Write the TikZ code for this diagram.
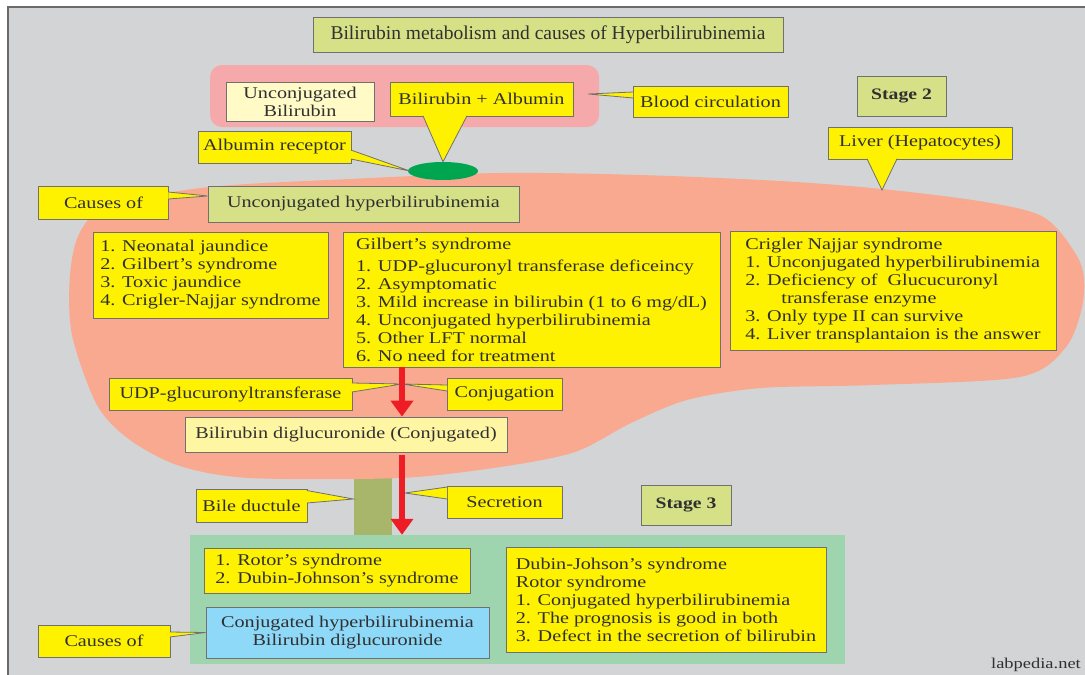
\documentclass[tikz,border=0pt]{standalone}
\usepackage{fontspec}
\setmainfont{Liberation Serif}[FakeStretch=1.23]
\newfontfamily\titlefont{Liberation Serif}
\usetikzlibrary{arrows.meta,shapes.geometric}
\definecolor{bg}{HTML}{D3D4D6}
\definecolor{frame}{HTML}{6A6A6A}
\definecolor{yel}{HTML}{FFF200}
\definecolor{lyelA}{HTML}{FFFAC6}
\definecolor{lyelB}{HTML}{FFF6A4}
\definecolor{gy}{HTML}{D6E187}
\definecolor{pinkc}{HTML}{F5A9AB}
\definecolor{salmon}{HTML}{F8A98F}
\definecolor{ellg}{HTML}{00A550}
\definecolor{redc}{HTML}{EE1C25}
\definecolor{olive}{HTML}{A8B66C}
\definecolor{greenr}{HTML}{9ED5AF}
\definecolor{bluec}{HTML}{8ED8F8}
\definecolor{bord}{HTML}{707070}
\definecolor{txt}{HTML}{303030}
\begin{document}
\begin{tikzpicture}[x=1pt,y=-1pt,
  box/.style={draw=bord, line width=0.8pt, text=txt, inner sep=0pt,
    font=\fontsize{16.4}{18}\selectfont},
  ybox/.style={box, fill=yel},
  gbox/.style={box, fill=gy},
  ptr/.style={fill=yel, draw=bord, line width=0.8pt},
  redarrow/.style={draw=redc, line width=5.5pt,
    -{Triangle[width=22pt,length=16pt]}, shorten <=0pt},
  stagebox/.style={gbox, font=\bfseries\fontsize{16}{18}\selectfont}
]
\useasboundingbox (0,0) rectangle (1085,675);
\fill[bg] (8,7) rectangle (1085,675);
\draw[frame, line width=1.5pt] (8,675) -- (8,7) -- (1085,7);

% title
\node[gbox, font=\titlefont\fontsize{19.5}{22}\selectfont,
  minimum width=470pt, minimum height=35pt] (title) at (548,34.5)
  {Bilirubin metabolism and causes of Hyperbilirubinemia};

% blood circulation area
\node[fill=pinkc, rounded corners=12pt, minimum width=389pt,
  minimum height=62pt, inner sep=0pt] (pink) at (404.5,96) {};
\node[box, fill=lyelA, align=center, minimum width=148pt,
  minimum height=39pt] (unconjB) at (300,101.5) {Unconjugated\\Bilirubin};
\node[ybox, minimum width=183pt, minimum height=34pt] (bilalb)
  at (481.5,99) {Bilirubin + Albumin};
\node[ybox, minimum width=155pt, minimum height=31pt] (bloodc)
  at (710.5,101.5) {Blood circulation};
\node[stagebox, minimum width=89pt, minimum height=40pt] (stage2)
  at (901.5,96) {Stage 2};

% bile ductule bar (under liver)
\node[fill=olive, minimum width=38pt, minimum height=66pt, inner sep=0pt]
  (duct) at (372.5,503) {};

% liver
\fill[salmon] plot[smooth cycle, tension=0.5] coordinates {
  (500,173) (350,179) (210,187) (110,205) (80,232) (70,275) (72,335)
  (97,405) (130,440) (180,466) (250,478) (400,478) (500,467) (575,452)
  (631,423) (687,400) (761,388) (873,385) (1020,377) (1066,347)
  (1083,302) (1080,262) (1045,218) (985,202) (882,189) (780,181)
  (640,175)};

\node[ellipse, fill=ellg, minimum width=70pt, minimum height=18pt,
  inner sep=0pt] (ell) at (443,171) {};
\node[ybox, minimum width=153pt, minimum height=32pt] (albrec)
  at (274.5,147) {Albumin receptor};
\node[ybox, minimum width=184pt, minimum height=32pt] (liver)
  at (920,143) {Liver (Hepatocytes)};
\coordinate (livertip) at (882,190);

\node[ybox, minimum width=130pt, minimum height=33pt] (causesA)
  at (103.5,202.5) {Causes of};
\node[gbox, minimum width=311pt, minimum height=36pt] (unconjH)
  at (363.5,204) {Unconjugated hyperbilirubinemia};

\node[ybox, align=left, minimum width=235pt, minimum height=86pt] (list1)
  at (210.5,275) {1. Neonatal jaundice\\2. Gilbert’s syndrome\\
  3. Toxic jaundice\\4. Crigler-Najjar syndrome};
\node[ybox, align=left, minimum width=377pt, minimum height=135pt] (gilbert)
  at (531.5,299.5) {Gilbert’s syndrome\\[4pt]
  1. UDP-glucuronyl transferase deficeincy\\
  2. Asymptomatic\\
  3. Mild increase in bilirubin (1 to 6 mg/dL)\\
  4. Unconjugated hyperbilirubinemia\\
  5. Other LFT normal\\
  6. No need for treatment};
\node[ybox, align=left, minimum width=326pt, minimum height=119pt] (crigler)
  at (893,290.5) {Crigler Najjar syndrome\\
  1. Unconjugated hyperbilirubinemia\\
  2. Deficiency of\ \ Glucucuronyl\\
  \hspace*{36pt}transferase enzyme\\
  3. Only type II can survive\\
  4. Liver transplantaion is the answer};

\coordinate (conjpt) at (402,384);
\node[ybox, minimum width=243pt, minimum height=32pt] (udp)
  at (230.5,394) {UDP-glucuronyltransferase};
\node[ybox, minimum width=115pt, minimum height=32pt] (conjug)
  at (504.5,394) {Conjugation};
\node[box, fill=lyelB, minimum width=322pt, minimum height=35pt] (bdg)
  at (346,434.5) {Bilirubin diglucuronide (Conjugated)};

% stage 3 area
\node[ybox, minimum width=111pt, minimum height=33pt] (bile)
  at (251.5,505.5) {Bile ductule};
\node[ybox, minimum width=115pt, minimum height=32pt] (secretion)
  at (504.5,502) {Secretion};
\coordinate (sectip) at (405,493);
\node[stagebox, minimum width=90pt, minimum height=40pt] (stage3)
  at (686,505) {Stage 3};

\node[fill=greenr, minimum width=655pt, minimum height=129pt, inner sep=0pt]
  (greenrect) at (517.5,599.5) {};
\node[ybox, align=left, minimum width=266pt, minimum height=45pt] (rotor)
  at (337,570.5) {1. Rotor’s syndrome\\2. Dubin-Johnson’s syndrome};
\node[box, fill=bluec, align=center, minimum width=283pt, minimum height=51pt]
  (blue) at (347.5,632.5) {Conjugated hyperbilirubinemia\\Bilirubin diglucuronide};
\node[ybox, align=left, minimum width=320pt, minimum height=105pt] (dubin)
  at (666,599.5) {Dubin-Johson’s syndrome\\
  Rotor syndrome\\
  1. Conjugated hyperbilirubinemia\\
  2. The prognosis is good in both\\
  3. Defect in the secretion of bilirubin};
\node[ybox, minimum width=132pt, minimum height=32pt] (causesB)
  at (104,641) {Causes of};

% callout pointers
\path[ptr] ([xshift=-58.5pt,yshift=0.6pt]bilalb.south) -- (ell.north)
  -- ([xshift=-14.5pt,yshift=0.6pt]bilalb.south);
\path[ptr] ([xshift=-0.6pt,yshift=-3pt]albrec.east) -- ([xshift=2pt]ell.west)
  -- ([xshift=-0.6pt,yshift=-12pt]albrec.east);
\path[ptr] ([xshift=0.6pt,yshift=9.5pt]bloodc.west)
  -- ([xshift=-11pt,yshift=2pt]pink.east)
  -- ([xshift=0.6pt,yshift=3.5pt]bloodc.west);
\path[ptr] ([xshift=-53pt,yshift=0.6pt]liver.south) -- (livertip)
  -- ([xshift=-23pt,yshift=0.6pt]liver.south);
\path[ptr] ([xshift=-0.6pt,yshift=10.5pt]causesA.east)
  -- ([yshift=8pt]unconjH.west)
  -- ([xshift=-0.6pt,yshift=3.5pt]causesA.east);
\path[ptr] ([xshift=-0.6pt,yshift=11pt]udp.east) -- (conjpt)
  -- ([xshift=-0.6pt,yshift=2pt]udp.east);
\path[ptr] ([xshift=0.6pt,yshift=9pt]conjug.west) -- (conjpt)
  -- ([xshift=0.6pt,yshift=3pt]conjug.west);
\path[ptr] ([xshift=-0.6pt,yshift=15pt]bile.east) -- ([yshift=4pt]duct.west)
  -- ([xshift=-0.6pt,yshift=2.5pt]bile.east);
\path[ptr] ([xshift=0.6pt,yshift=15pt]secretion.west) -- (sectip)
  -- ([xshift=0.6pt,yshift=3pt]secretion.west);
\path[ptr] ([xshift=-0.6pt,yshift=9pt]causesB.east) -- (blue.west)
  -- ([xshift=-0.6pt,yshift=4pt]causesB.east);

% red arrows
\coordinate (a2s) at ([yshift=-3pt]bdg.south);
\draw[redarrow] (gilbert.south -| conjpt) -- (bdg.north -| conjpt);
\draw[redarrow] (a2s -| conjpt) -- (greenrect.north -| conjpt);

\node[anchor=east, font=\fontsize{15}{18}\selectfont, text=txt, inner sep=0pt]
  (wm) at (1081,665) {labpedia.net};
\end{tikzpicture}
\end{document}
